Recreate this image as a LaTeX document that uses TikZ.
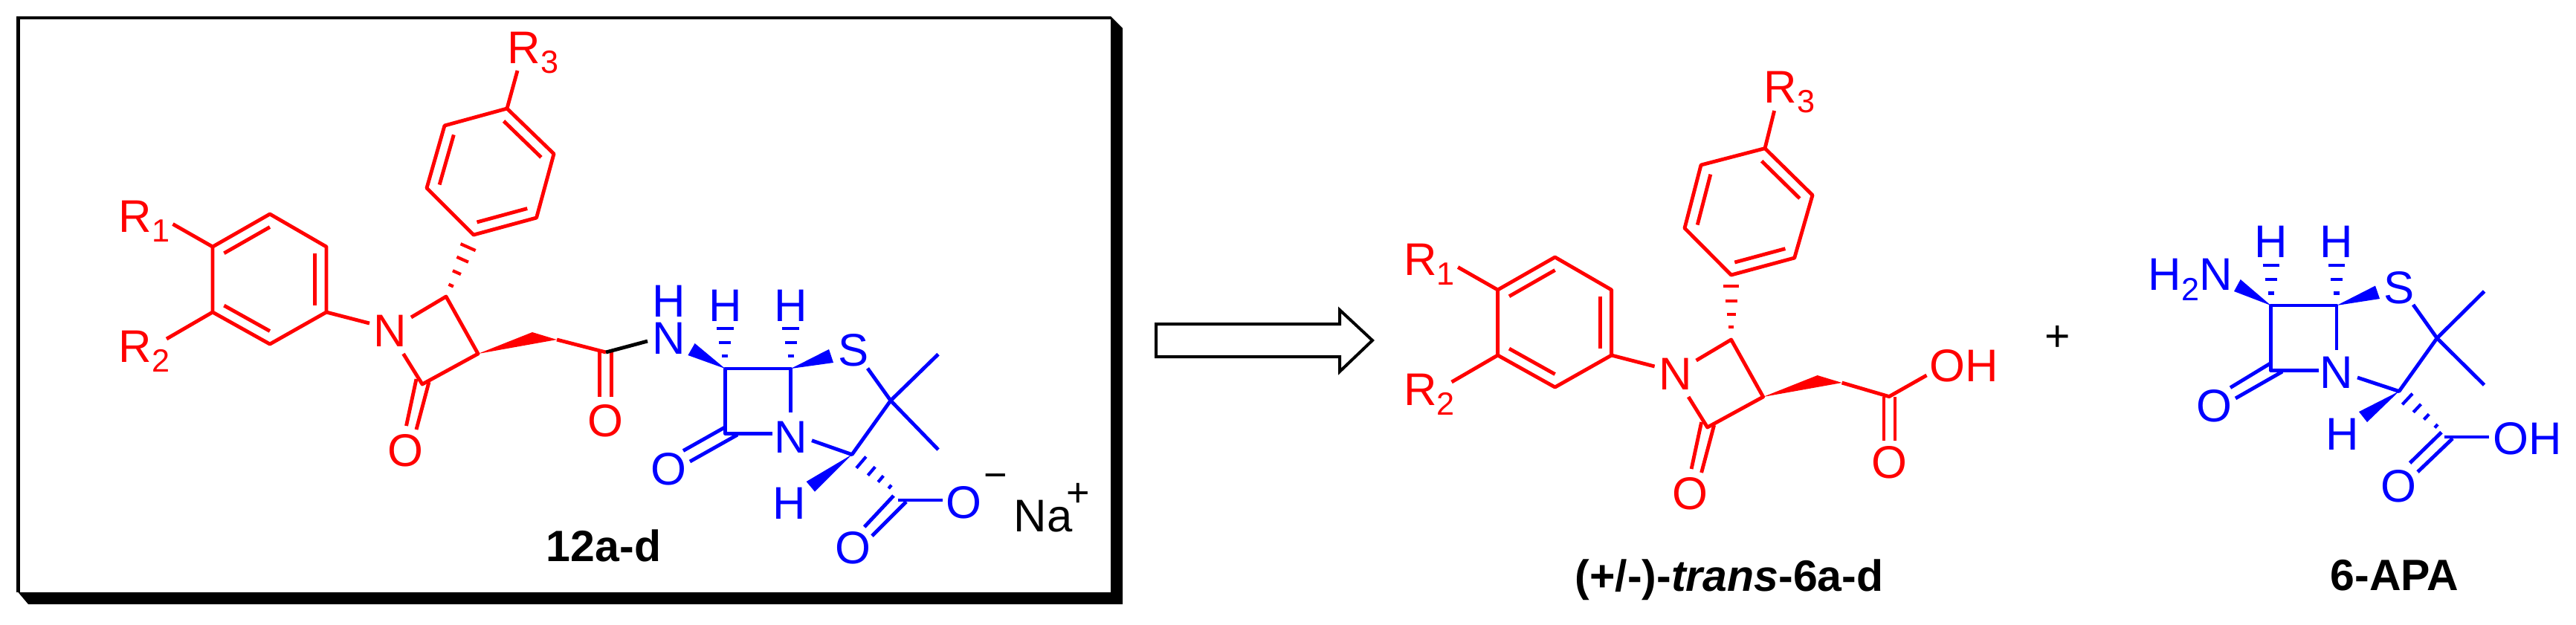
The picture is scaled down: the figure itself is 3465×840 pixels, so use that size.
\documentclass[tikz,border=0pt]{standalone}
\usepackage{fontspec}
\setmainfont{Liberation Sans}
\usetikzlibrary{calc}
\definecolor{cred}{RGB}{255,0,0}
\definecolor{cblue}{RGB}{0,0,255}
\newcommand\atomfont{\fontsize{15.4pt}{18pt}\selectfont}
\newcommand\subfont{\fontsize{10.8pt}{13pt}\selectfont}
\newcommand\boldfont{\fontsize{14.75pt}{18pt}\selectfont\bfseries}
\newcommand\chargefont{\fontsize{13.5pt}{16pt}\selectfont}
\newcommand\lowsub[1]{\raisebox{-3.4pt}{\subfont #1}}
\tikzset{
  atom/.style={font=\atomfont,inner sep=0pt,anchor=base},
  atomw/.style={font=\atomfont,inner sep=0pt,anchor=base west},
  caplabel/.style={font=\boldfont,inner sep=0pt,anchor=base,text=black},
  chargelabel/.style={font=\chargefont,inner sep=0pt,anchor=base,text=black},
  bond/.style={line width=1.22pt,line join=round,line cap=butt},
  hashline/.style={line width=1.05pt,line cap=butt},
  frameline/.style={draw=black,line width=1.1pt,line join=miter},
  openarrow/.style={draw=black,fill=white,line width=1pt,line join=miter},
}
\newcommand\ringinner[3]{\draw[bond] ($(#1)!0.8!(#2)$) -- ($(#1)!0.8!(#3)$);}
\newcommand\hashbond[3]{\foreach \t/\w in {#3} {\draw[hashline] ($(#1)!\t!(#2)!\w*0.125pt!90:(#2)$) -- ($(#1)!\t!(#2)!\w*0.125pt!-90:(#2)$);}}
% aryl-lactam core shared by 12a-d and 6a-d
\newcommand\redcore{%
  \coordinate (a1) at (286,332); \coordinate (a2) at (363,288); \coordinate (a3) at (439,332);
  \coordinate (a4) at (439,420); \coordinate (a5) at (363,463); \coordinate (a6) at (286,420);
  \coordinate (ac) at (363,375.5);
  \draw[bond] (a1)--(a2)--(a3)--(a4)--(a5)--(a6)--cycle;
  \ringinner{ac}{a1}{a2}\ringinner{ac}{a3}{a4}\ringinner{ac}{a5}{a6}
  \coordinate (r1e) at (232.5,301.5); \coordinate (r2e) at (224,456);
  \draw[bond] (a1)--(r1e); \draw[bond] (a6)--(r2e);
  \node[atomw] (r1) at (159,312) {R\lowsub{1}};
  \node[atomw] (r2) at (159,487) {R\lowsub{2}};
  \node[atom] (n1) at (525,466) {N};
  \coordinate (nl) at (497,435); \coordinate (nr) at (553,427); \coordinate (nb) at (542.5,476);
  \coordinate (c4) at (600,399); \coordinate (c3) at (643,476); \coordinate (c2) at (568,517);
  \draw[bond] (a4)--(nl);
  \draw[bond] (nr)--(c4)--(c3)--(c2)--(nb);
  \coordinate (d1a) at (560,510); \coordinate (d1b) at (546.5,573);
  \coordinate (d2a) at (577,514); \coordinate (d2b) at (560,578);
  \draw[bond] (d1a)--(d1b); \draw[bond] (d2a)--(d2b);
  \node[atom] (o1) at (545,627) {O};
  \coordinate (ww) at (716,447); \coordinate (ch2) at (749,457);
  \fill (c3)--(ww)--(ch2)--cycle;
}
\begin{document}
\begin{tikzpicture}[x=0.25pt,y=-0.25pt]
\useasboundingbox (0,0) rectangle (3465,840);
% frame
\coordinate (ftl) at (24.5,24); \coordinate (ftr) at (1494,24); \coordinate (fbl) at (24.5,797);
\coordinate (s1) at (1510,38); \coordinate (s2) at (1510,813); \coordinate (s3) at (38,813); \coordinate (s4) at (1494,797);
\draw[frameline] (fbl)--(ftl)--(ftr);
\fill[black] (1494,22)--(s1)--(s2)--(s3)--(fbl)--(s4)--cycle;
% arrow
\coordinate (ar1) at (1555,436); \coordinate (ar2) at (1802,436); \coordinate (ar3) at (1802,417);
\coordinate (ar4) at (1846,458); \coordinate (ar5) at (1802,500); \coordinate (ar6) at (1802,480); \coordinate (ar7) at (1555,480);
\draw[openarrow] (ar1)--(ar2)--(ar3)--(ar4)--(ar5)--(ar6)--(ar7)--cycle;

% ---- 12a-d red part ----
\begin{scope}[name prefix=p-,color=cred,fill=cred,text=cred]
\redcore
\coordinate (b1) at (637,316); \coordinate (b2) at (721.6,293); \coordinate (b3) at (745,207);
\coordinate (b4) at (682,146); \coordinate (b5) at (598,169); \coordinate (b6) at (574,253);
\coordinate (bc) at (659.7,230.7);
\draw[bond] (b1)--(b2)--(b3)--(b4)--(b5)--(b6)--cycle;
\ringinner{bc}{b1}{b2}\ringinner{bc}{b3}{b4}\ringinner{bc}{b5}{b6}
\coordinate (r3e) at (696,95); \draw[bond] (b4)--(r3e);
\node[atomw] (r3) at (682,85) {R\lowsub{3}};
\hashbond{c4}{b1}{0.18/7,0.39/12,0.6/17,0.8/22}
\coordinate (cox) at (815,474);
\draw[bond] (ch2)--(cox);
\coordinate (e1a) at (806.5,474); \coordinate (e1b) at (806.5,534);
\coordinate (e2a) at (822.6,474); \coordinate (e2b) at (822.6,534);
\draw[bond] (e1a)--(e1b); \draw[bond] (e2a)--(e2b);
\node[atom] (o2) at (814,587) {O};
\end{scope}
\coordinate (nhe) at (871,459);
\draw[bond,black] (p-cox)--(nhe);
\node[caplabel] (lab1) at (812,755) {12a-d};

% ---- 12a-d blue part ----
\begin{scope}[name prefix=q-,color=cblue,fill=cblue,text=cblue]
\node[atom] (h0) at (899.5,426) {H};
\node[atom] (n0) at (899.5,476.6) {N};
\coordinate (c6) at (975.4,496); \coordinate (c5) at (1063.7,496); \coordinate (c7) at (975.4,583.4);
\node[atom] (n4) at (1063.7,609) {N};
\coordinate (n4t) at (1063.7,555); \coordinate (n4l) at (1038.7,583.4); \coordinate (n4r) at (1092,592.7);
\draw[bond] (n4t)--(c5)--(c6)--(c7)--(n4l);
\coordinate (w1a) at (934.6,462); \coordinate (w1b) at (925.4,478);
\coordinate (w2a) at (1115,470); \coordinate (w2b) at (1121,488);
\fill (c6)--(w1a)--(w1b)--cycle;
\fill (c5)--(w2a)--(w2b)--cycle;
\node[atom] (h6) at (975.4,432.6) {H};
\node[atom] (h5) at (1063.7,432.6) {H};
\coordinate (h6e) at (975.4,432); \coordinate (h5e) at (1063.7,432);
\hashbond{c6}{h6e}{0.27/8,0.55/16,0.84/23}
\hashbond{c5}{h5e}{0.27/8,0.55/16,0.84/23}
\node[atom] (s) at (1148,492.5) {S};
\coordinate (se) at (1167,495.6); \coordinate (q) at (1198,539); \coordinate (m1) at (1262,476.6); \coordinate (m2) at (1262,605);
\coordinate (c2) at (1146,611.6);
\draw[bond] (se)--(q)--(c2)--(n4r);
\draw[bond] (m1)--(q)--(m2);
\coordinate (w3a) at (1084.6,648); \coordinate (w3b) at (1096,661.6);
\fill (c2)--(w3a)--(w3b)--cycle;
\node[atom] (h2) at (1062,698.8) {H};
\coordinate (d1a) at (974,575.5); \coordinate (d1b) at (919,606.5);
\coordinate (d2a) at (992,585); \coordinate (d2b) at (928,621);
\draw[bond] (d1a)--(d1b); \draw[bond] (d2a)--(d2b);
\node[atom] (o7) at (899.4,652) {O};
\coordinate (cx) at (1219,673.6); \coordinate (cxs) at (1207.5,673); \coordinate (cxe) at (1268,673);
\hashbond{c2}{cx}{0.17/20,0.36/15,0.53/11,0.70/6}
\draw[bond] (cxs)--(cxe);
\coordinate (f1a) at (1202,667); \coordinate (f1b) at (1162.7,709);
\coordinate (f2a) at (1219,675); \coordinate (f2b) at (1173,721);
\draw[bond] (f1a)--(f1b); \draw[bond] (f2a)--(f2b);
\node[atom] (om) at (1296,697) {O};
\node[atom] (o8) at (1147,758) {O};
\end{scope}
\node[chargelabel] (minus) at (1339,657) {−};
\node[atomw,text=black] (na) at (1363,715) {Na\kern-2pt\raisebox{8.5pt}{\chargefont +}};

% ---- 6a-d ----
\begin{scope}[name prefix=t-,shift={(1728.6,58)},color=cred,fill=cred,text=cred]
\redcore
\end{scope}
\begin{scope}[name prefix=u-,color=cred,fill=cred,text=cred]
\coordinate (b1) at (2328.6,370); \coordinate (b2) at (2413.7,347); \coordinate (b3) at (2438,262.6);
\coordinate (b4) at (2374,199.6); \coordinate (b5) at (2288,222); \coordinate (b6) at (2266,307);
\coordinate (bc) at (2352,285);
\draw[bond] (b1)--(b2)--(b3)--(b4)--(b5)--(b6)--cycle;
\ringinner{bc}{b1}{b2}\ringinner{bc}{b3}{b4}\ringinner{bc}{b5}{b6}
\coordinate (r3e) at (2386.6,149); \draw[bond] (b4)--(r3e);
\node[atomw] (r3) at (2372,138) {R\lowsub{3}};
\coordinate (c4) at (2328.6,457);
\hashbond{c4}{b1}{0.2/7,0.39/12,0.6/16,0.83/21}
\coordinate (cox) at (2541,533.6); \coordinate (oh) at (2591.5,505);
\coordinate (ch2) at (2477.6,515);
\draw[bond] (ch2)--(cox)--(oh);
\node[atomw] (oh1) at (2595,513) {OH};
\coordinate (e1a) at (2534,533.6); \coordinate (e1b) at (2534,593);
\coordinate (e2a) at (2549,533.6); \coordinate (e2b) at (2549,593);
\draw[bond] (e1a)--(e1b); \draw[bond] (e2a)--(e2b);
\node[atom] (o2) at (2541,643) {O};
\end{scope}
\node[caplabel] (lab2) at (2326,795) {(+/-)-\textit{trans}-6a-d};
\node[caplabel,font=\fontsize{14.75pt}{18pt}\selectfont] (plusb) at (2768,472) {+};

% ---- 6-APA ----
\begin{scope}[name prefix=v-,color=cblue,fill=cblue,text=cblue]
\node[atomw] (nh2) at (2889,390.6) {H\lowsub{2}N};
\coordinate (c6) at (3054.6,411); \coordinate (c5) at (3143,411); \coordinate (c7) at (3054.6,498.8);
\node[atom] (n4) at (3143,522.4) {N};
\coordinate (n4t) at (3143,470.6); \coordinate (n4l) at (3118.5,498.8); \coordinate (n4r) at (3171,508);
\draw[bond] (n4t)--(c5)--(c6)--(c7)--(n4l);
\coordinate (w1a) at (3013.7,376); \coordinate (w1b) at (3005,392);
\coordinate (w2a) at (3195,384.5); \coordinate (w2b) at (3201,402);
\fill (c6)--(w1a)--(w1b)--cycle;
\fill (c5)--(w2a)--(w2b)--cycle;
\node[atom] (h6) at (3054.6,346) {H};
\node[atom] (h5) at (3143,346) {H};
\coordinate (h6e) at (3054.6,350); \coordinate (h5e) at (3143,350);
\hashbond{c6}{h6e}{0.27/8,0.57/16,0.89/22}
\hashbond{c5}{h5e}{0.27/8,0.57/16,0.89/22}
\node[atom] (s) at (3226.6,408) {S};
\coordinate (se) at (3246,410); \coordinate (q) at (3278,455); \coordinate (m1) at (3341.5,392); \coordinate (m2) at (3341.5,518);
\coordinate (c2) at (3227,526.5);
\draw[bond] (se)--(q)--(c2)--(n4r);
\draw[bond] (m1)--(q)--(m2);
\coordinate (w3a) at (3173,554); \coordinate (w3b) at (3184,568);
\fill (c2)--(w3a)--(w3b)--cycle;
\node[atom] (h2) at (3151,605) {H};
\coordinate (d1a) at (3053.7,489); \coordinate (d1b) at (3000,521.6);
\coordinate (d2a) at (3070,500); \coordinate (d2b) at (3007,536);
\draw[bond] (d1a)--(d1b); \draw[bond] (d2a)--(d2b);
\node[atom] (o7) at (2978.5,567) {O};
\coordinate (cx) at (3292.7,588); \coordinate (cxs) at (3288,588); \coordinate (cxe) at (3348,588);
\hashbond{c2}{cx}{0.17/20,0.37/15,0.56/10,0.76/6}
\draw[bond] (cxs)--(cxe);
\coordinate (f1a) at (3284,581.6); \coordinate (f1b) at (3241.5,623);
\coordinate (f2a) at (3299,590); \coordinate (f2b) at (3252,635);
\draw[bond] (f1a)--(f1b); \draw[bond] (f2a)--(f2b);
\node[atomw] (oh3) at (3353,611) {OH};
\node[atom] (o8) at (3226.6,675) {O};
\end{scope}
\node[caplabel] (lab3) at (3221,794) {6-APA};
\end{tikzpicture}
\end{document}
